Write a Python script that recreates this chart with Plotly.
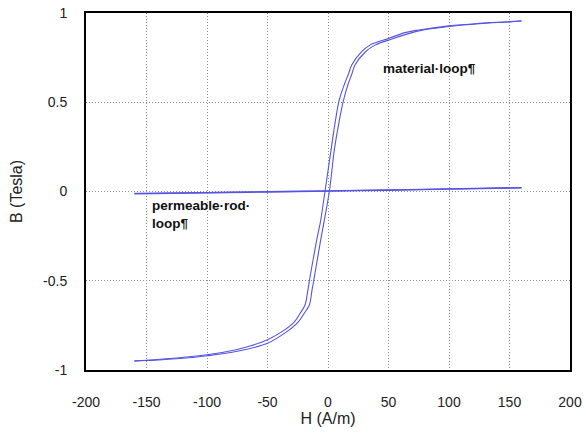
import plotly.graph_objects as go

# Material hysteresis loop: descending branch (H decreasing, upper/left branch)
h_desc = [160, 150, 125, 100, 75, 63.6, 50, 34.7, 27.8, 19.6, 17, 13.8, 9.3, 6.2, 2.5, -2.5,
          -6, -9.3, -15.4, -16.8, -19, -23, -27.8, -38, -50, -64.5, -75, -100, -125, -150,
          -160]
b_desc = [0.957, 0.952, 0.942, 0.928, 0.905, 0.89, 0.857, 0.82, 0.783, 0.709, 0.66, 0.605,
          0.513, 0.40, 0.232, 0.0, -0.16, -0.27, -0.5, -0.56, -0.636, -0.682, -0.73, -0.785,
          -0.83, -0.866, -0.885, -0.915, -0.933, -0.945, -0.948]

# Ascending branch (H increasing, lower/right branch)
h_asc = [-160, -150, -125, -100, -75, -50, -34, -24.5, -19.6, -15.4, -13.3, -11.8, -6, 1.1,
         5.2, 9.4, 12.9, 16.8, 19.8, 22.3, 31, 38.8, 50, 75, 100, 125, 150, 160]
b_asc = [-0.950, -0.947, -0.937, -0.920, -0.895, -0.85, -0.785, -0.73, -0.682, -0.636,
         -0.555, -0.5, -0.27, 0.0, 0.232, 0.40, 0.513, 0.605, 0.66, 0.709, 0.783, 0.82,
         0.848, 0.9, 0.924, 0.940, 0.950, 0.955]

# Permeable rod loop (nearly flat)
h_rod_up = [-160, -100, -50, 0, 50, 100, 160]
b_rod_up = [-0.013, -0.007, -0.003, 0.002, 0.007, 0.013, 0.020]
h_rod_down = [160, 100, 50, 0, -50, -100, -160]
b_rod_down = [0.022, 0.015, 0.009, 0.004, -0.001, -0.006, -0.011]

x_ticks = [-200, -150, -100, -50, 0, 50, 100, 150, 200]
x_tick_text = ["-200", "-150", "-100", "-50", "0", "50", "100", "150", "200"]
y_ticks = [-1, -0.5, 0, 0.5, 1]
y_tick_text = ["-1", "-0.5", "0", "0.5", "1"]

line_color = "rgb(85,85,225)"
fig = go.Figure()
for hx, by, w in [(h_desc, b_desc, 1.1), (h_asc, b_asc, 1.1),
                  (h_rod_up, b_rod_up, 1.3), (h_rod_down, b_rod_down, 1.3)]:
    fig.add_trace(go.Scatter(x=hx, y=by, mode="lines",
                             line=dict(color=line_color, width=w, shape="spline",
                                       smoothing=1.0),
                             showlegend=False))

font = "Liberation Sans, Arial, sans-serif"
fig.add_annotation(x=84, y=0.69, xref="x", yref="y", text="<b>material·loop¶</b>",
                   showarrow=False, xanchor="center", yanchor="middle",
                   font=dict(family=font, size=13.5, color="#111"))
fig.add_annotation(x=-147, y=-0.13, xref="x", yref="y",
                   text="<b>permeable·rod·<br>loop¶</b>", align="left",
                   showarrow=False, xanchor="left", yanchor="middle",
                   font=dict(family=font, size=13.5, color="#111"))

axis_common = dict(showline=True, linecolor="black", linewidth=2, mirror=True,
                   showgrid=True, gridcolor="#8c8c8c", griddash="1px,2px", gridwidth=1,
                   zeroline=False, ticks="", automargin=False,
                   tickfont=dict(family=font, size=14, color="#222"))

fig.update_xaxes(range=[-200, 200], tickvals=x_ticks, ticktext=x_tick_text,
                 ticklabelstandoff=18,
                 title=dict(text="H (A/m)", font=dict(family=font, size=16, color="#222"),
                            standoff=0),
                 **axis_common)
fig.update_yaxes(range=[-1, 1], tickvals=y_ticks, ticktext=y_tick_text,
                 ticklabelstandoff=14,
                 title=dict(text="B (Tesla)", font=dict(family=font, size=16, color="#222"),
                            standoff=16),
                 **axis_common)

fig.update_layout(width=586, height=434, margin=dict(l=86, r=16, t=13, b=64),
                  plot_bgcolor="white", paper_bgcolor="white")

fig.write_html("out.html")
